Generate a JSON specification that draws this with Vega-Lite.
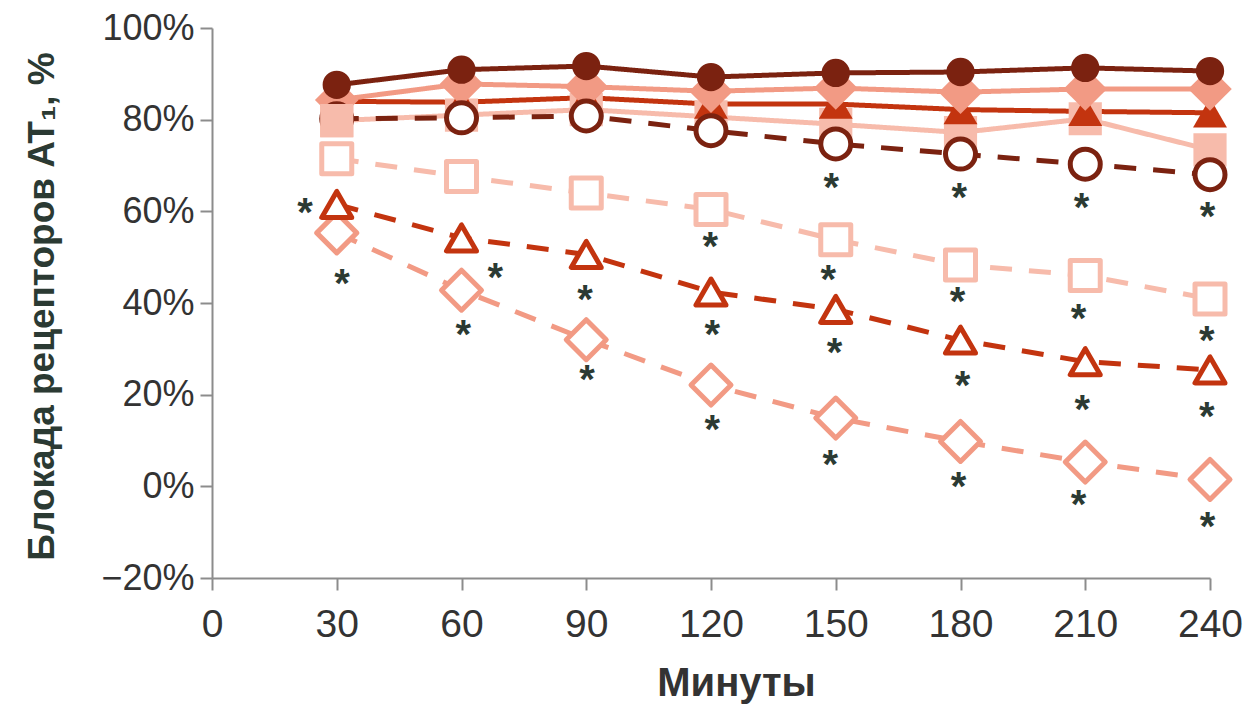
{
  "$schema": "https://vega.github.io/schema/vega-lite/v6.json",
  "width": 998,
  "height": 550,
  "autosize": "none",
  "padding": {"left": 212, "top": 28, "right": 38, "bottom": 129},
  "background": "white",
  "config": {"view": {"stroke": null}, "axis": {"grid": false}},
  "datasets": {
    "series": [
      {"series": "s4", "type": "solid", "minute": 30, "value": 79.8},
      {"series": "s4", "type": "solid", "minute": 60, "value": 81.0},
      {"series": "s4", "type": "solid", "minute": 90, "value": 82.2},
      {"series": "s4", "type": "solid", "minute": 120, "value": 80.6},
      {"series": "s4", "type": "solid", "minute": 150, "value": 79.0},
      {"series": "s4", "type": "solid", "minute": 180, "value": 77.2},
      {"series": "s4", "type": "solid", "minute": 210, "value": 80.2},
      {"series": "s4", "type": "solid", "minute": 240, "value": 73.4},
      {"series": "s3", "type": "solid", "minute": 30, "value": 84.0},
      {"series": "s3", "type": "solid", "minute": 60, "value": 83.8},
      {"series": "s3", "type": "solid", "minute": 90, "value": 84.8},
      {"series": "s3", "type": "solid", "minute": 120, "value": 83.4},
      {"series": "s3", "type": "solid", "minute": 150, "value": 83.4},
      {"series": "s3", "type": "solid", "minute": 180, "value": 82.2},
      {"series": "s3", "type": "solid", "minute": 210, "value": 81.8},
      {"series": "s3", "type": "solid", "minute": 240, "value": 81.5},
      {"series": "s2", "type": "solid", "minute": 30, "value": 84.3},
      {"series": "s2", "type": "solid", "minute": 60, "value": 87.8},
      {"series": "s2", "type": "solid", "minute": 90, "value": 87.2},
      {"series": "s2", "type": "solid", "minute": 120, "value": 86.2},
      {"series": "s2", "type": "solid", "minute": 150, "value": 86.9},
      {"series": "s2", "type": "solid", "minute": 180, "value": 86.0},
      {"series": "s2", "type": "solid", "minute": 210, "value": 86.7},
      {"series": "s2", "type": "solid", "minute": 240, "value": 86.7},
      {"series": "s1", "type": "solid", "minute": 30, "value": 87.6},
      {"series": "s1", "type": "solid", "minute": 60, "value": 90.9},
      {"series": "s1", "type": "solid", "minute": 90, "value": 91.7},
      {"series": "s1", "type": "solid", "minute": 120, "value": 89.3},
      {"series": "s1", "type": "solid", "minute": 150, "value": 90.2},
      {"series": "s1", "type": "solid", "minute": 180, "value": 90.4},
      {"series": "s1", "type": "solid", "minute": 210, "value": 91.3},
      {"series": "s1", "type": "solid", "minute": 240, "value": 90.6},
      {"series": "s8", "type": "dashed", "minute": 30, "value": 55.3},
      {"series": "s8", "type": "dashed", "minute": 60, "value": 42.8},
      {"series": "s8", "type": "dashed", "minute": 90, "value": 32.0},
      {"series": "s8", "type": "dashed", "minute": 120, "value": 22.1},
      {"series": "s8", "type": "dashed", "minute": 150, "value": 14.9},
      {"series": "s8", "type": "dashed", "minute": 180, "value": 9.8},
      {"series": "s8", "type": "dashed", "minute": 210, "value": 5.3},
      {"series": "s8", "type": "dashed", "minute": 240, "value": 1.5},
      {"series": "s7", "type": "dashed", "minute": 30, "value": 61.5},
      {"series": "s7", "type": "dashed", "minute": 60, "value": 54.2},
      {"series": "s7", "type": "dashed", "minute": 90, "value": 50.6},
      {"series": "s7", "type": "dashed", "minute": 120, "value": 42.4},
      {"series": "s7", "type": "dashed", "minute": 150, "value": 38.6},
      {"series": "s7", "type": "dashed", "minute": 180, "value": 31.9},
      {"series": "s7", "type": "dashed", "minute": 210, "value": 27.2},
      {"series": "s7", "type": "dashed", "minute": 240, "value": 25.4},
      {"series": "s6", "type": "dashed", "minute": 30, "value": 71.5},
      {"series": "s6", "type": "dashed", "minute": 60, "value": 67.6},
      {"series": "s6", "type": "dashed", "minute": 90, "value": 64.0},
      {"series": "s6", "type": "dashed", "minute": 120, "value": 60.4},
      {"series": "s6", "type": "dashed", "minute": 150, "value": 53.8},
      {"series": "s6", "type": "dashed", "minute": 180, "value": 48.3},
      {"series": "s6", "type": "dashed", "minute": 210, "value": 46.0},
      {"series": "s6", "type": "dashed", "minute": 240, "value": 40.9},
      {"series": "s5", "type": "dashed", "minute": 30, "value": 80.2},
      {"series": "s5", "type": "dashed", "minute": 60, "value": 80.4},
      {"series": "s5", "type": "dashed", "minute": 90, "value": 80.8},
      {"series": "s5", "type": "dashed", "minute": 120, "value": 77.6},
      {"series": "s5", "type": "dashed", "minute": 150, "value": 74.7},
      {"series": "s5", "type": "dashed", "minute": 180, "value": 72.5},
      {"series": "s5", "type": "dashed", "minute": 210, "value": 70.3},
      {"series": "s5", "type": "dashed", "minute": 240, "value": 68.0}
    ],
    "stars": [
      {"minute": 22.4, "value": 61.8},
      {"minute": 31.3, "value": 46.3},
      {"minute": 68.1, "value": 47.6},
      {"minute": 60.4, "value": 35.2},
      {"minute": 89.7, "value": 42.8},
      {"minute": 90.2, "value": 25.3},
      {"minute": 119.8, "value": 54.4},
      {"minute": 120.3, "value": 35.2},
      {"minute": 120.3, "value": 14.5},
      {"minute": 148.9, "value": 67.3},
      {"minute": 148.2, "value": 47.2},
      {"minute": 149.7, "value": 31.3},
      {"minute": 148.7, "value": 6.8},
      {"minute": 179.7, "value": 65.1},
      {"minute": 179.3, "value": 42.4},
      {"minute": 180.5, "value": 24.1},
      {"minute": 179.5, "value": 2.0},
      {"minute": 209.1, "value": 62.9},
      {"minute": 208.4, "value": 38.6},
      {"minute": 209.3, "value": 18.8},
      {"minute": 208.4, "value": -1.9},
      {"minute": 239.4, "value": 60.9},
      {"minute": 239.2, "value": 33.9},
      {"minute": 239.2, "value": 17.3},
      {"minute": 239.4, "value": -6.7}
    ]
  },
  "encoding": {
    "x": {
      "field": "minute",
      "type": "quantitative",
      "scale": {"domain": [0, 240], "nice": false, "zero": false},
      "axis": {
        "values": [0, 30, 60, 90, 120, 150, 180, 210, 240],
        "title": "Минуты",
        "titleFont": "Liberation Sans",
        "titleFontSize": 40,
        "titleFontWeight": "bold",
        "titleColor": "#333333",
        "titleX": 524,
        "titleY": 85,
        "titleAlign": "center",
        "titleBaseline": "top",
        "labelFont": "Liberation Sans Narrow, Arial Narrow, Liberation Sans, sans-serif",
        "labelFontSize": 39,
        "labelColor": "#333333",
        "labelPadding": 15,
        "labelFlush": false,
        "labelOverlap": false,
        "tickSize": 12,
        "tickWidth": 2,
        "tickColor": "#8c8c8c",
        "domainColor": "#8c8c8c",
        "domainWidth": 2
      }
    },
    "y": {
      "field": "value",
      "type": "quantitative",
      "scale": {"domain": [-20, 100], "nice": false, "zero": false},
      "axis": {
        "values": [-20, 0, 20, 40, 60, 80, 100],
        "labelExpr": "format(datum.value / 100, '.0%')",
        "labelFont": "Liberation Sans",
        "labelFontSize": 36,
        "labelColor": "#333333",
        "labelPadding": 6,
        "labelOverlap": false,
        "tickSize": 12,
        "tickWidth": 2,
        "tickColor": "#8c8c8c",
        "domainColor": "#8c8c8c",
        "domainWidth": 2,
        "title": "Блокада рецепторов AT₁, %",
        "titleFont": "Liberation Sans",
        "titleFontSize": 37,
        "titleFontWeight": "bold",
        "titleColor": "#2b3a33",
        "titleAngle": 270,
        "titleX": -159,
        "titleY": 278,
        "titleAlign": "center",
        "titleBaseline": "alphabetic"
      }
    }
  },
  "layer": [
    {
      "data": {"name": "series"},
      "mark": {"type": "line", "strokeWidth": 5},
      "encoding": {
        "color": {
          "field": "series",
          "type": "nominal",
          "scale": {
            "domain": ["s1", "s2", "s3", "s4", "s5", "s6", "s7", "s8"],
            "range": ["#7b2210", "#f29a84", "#c3340f", "#f7bbab", "#7b2210", "#f7bbab", "#c3340f", "#f29a84"]
          },
          "legend": null
        },
        "strokeDash": {
          "field": "type",
          "type": "nominal",
          "scale": {"domain": ["solid", "dashed"], "range": [[1, 0], [22, 17]]},
          "legend": null
        }
      }
    },
    {
      "data": {"name": "series"},
      "transform": [{"filter": "datum.series === 's4'"}],
      "mark": {"type": "point", "shape": "square", "size": 1100, "filled": true, "color": "#f7bbab", "opacity": 1}
    },
    {
      "data": {"name": "series"},
      "transform": [{"filter": "datum.series === 's3'"}],
      "mark": {"type": "point", "shape": "triangle-up", "size": 1150, "filled": true, "color": "#c3340f", "opacity": 1}
    },
    {
      "data": {"name": "series"},
      "transform": [{"filter": "datum.series === 's2'"}],
      "mark": {"type": "point", "shape": "diamond", "size": 1900, "filled": true, "color": "#f29a84", "opacity": 1}
    },
    {
      "data": {"name": "series"},
      "transform": [{"filter": "datum.series === 's1'"}],
      "mark": {"type": "point", "shape": "circle", "size": 800, "filled": true, "color": "#7b2210", "opacity": 1}
    },
    {
      "data": {"name": "series"},
      "transform": [{"filter": "datum.series === 's8'"}],
      "mark": {"type": "point", "shape": "diamond", "size": 1600, "filled": false, "fill": "white", "fillOpacity": 1, "stroke": "#f29a84", "strokeWidth": 5, "strokeJoin": "round", "opacity": 1}
    },
    {
      "data": {"name": "series"},
      "transform": [{"filter": "datum.series === 's7'"}],
      "mark": {"type": "point", "shape": "triangle-up", "size": 900, "filled": false, "fill": "white", "fillOpacity": 1, "stroke": "#c3340f", "strokeWidth": 5, "strokeJoin": "round", "opacity": 1}
    },
    {
      "data": {"name": "series"},
      "transform": [{"filter": "datum.series === 's6'"}],
      "mark": {"type": "point", "shape": "square", "size": 900, "filled": false, "fill": "white", "fillOpacity": 1, "stroke": "#f7bbab", "strokeWidth": 5, "strokeJoin": "round", "opacity": 1}
    },
    {
      "data": {"name": "series"},
      "transform": [{"filter": "datum.series === 's5'"}],
      "mark": {"type": "point", "shape": "circle", "size": 900, "filled": false, "fill": "white", "fillOpacity": 1, "stroke": "#7b2210", "strokeWidth": 5, "opacity": 1}
    },
    {
      "data": {"name": "series"},
      "transform": [{"filter": "datum.series === 's4' && datum.minute === 30"}],
      "mark": {"type": "point", "shape": "square", "size": 1100, "filled": true, "color": "#f7bbab", "opacity": 1}
    },
    {
      "data": {"name": "stars"},
      "mark": {"type": "text", "text": "*", "font": "Liberation Sans", "fontSize": 40, "fontWeight": "bold", "color": "#2b3a33", "align": "center", "baseline": "alphabetic", "dy": 23}
    }
  ]
}
